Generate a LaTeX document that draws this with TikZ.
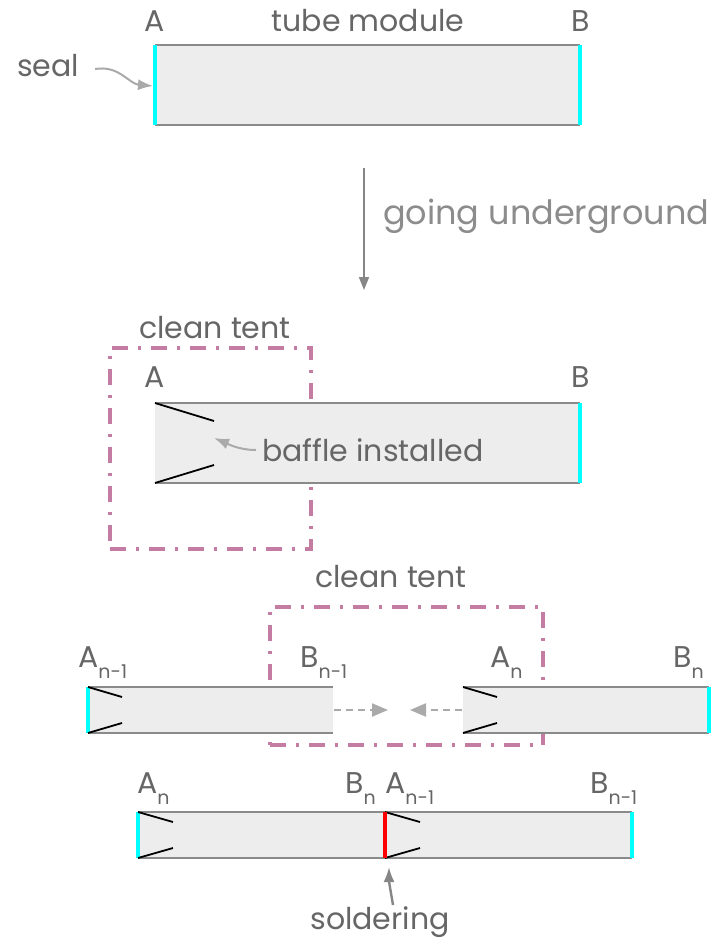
\documentclass[tikz,border=0pt]{standalone}
\usepackage{fontspec}
\setmainfont{Poppins}
\usetikzlibrary{arrows.meta}
\definecolor{txt}{HTML}{666666}
\definecolor{txtlight}{HTML}{8C8C8C}
\definecolor{tubefill}{HTML}{EDEDED}
\definecolor{edgegray}{HTML}{8A8A8A}
\definecolor{tentc}{HTML}{C47CA2}
\definecolor{arrgray}{HTML}{AAAAAA}
\definecolor{arrdark}{HTML}{868686}
\definecolor{sealc}{HTML}{00FFFF}
\definecolor{solderc}{HTML}{FF0000}
\newcommand\subl[2]{#1\raisebox{-11pt}{\fontsize{19}{19}\selectfont #2}}
\begin{document}
\begin{tikzpicture}[x=1pt,y=-1pt,
  tube/.style={fill=tubefill, draw=none, inner sep=0pt, outer sep=0pt},
  tubeedge/.style={draw=edgegray, line width=2.2pt},
  sealline/.style={draw=sealc, line width=3.2pt},
  solder/.style={draw=solderc, line width=3.6pt},
  baffle/.style={draw=black, line width=1.8pt},
  tent/.style={draw=tentc, line width=3.2pt, dash pattern=on 16pt off 10pt on 3pt off 10pt, inner sep=0pt, outer sep=0pt},
  lbl/.style={text=txt, font=\fontsize{30}{30}\selectfont, inner sep=0pt},
  thinarrow/.style={draw=arrgray, line width=2pt, -{Latex[length=15pt,width=11pt]}},
  dasharrow/.style={draw=arrgray, line width=2.2pt, dash pattern=on 7pt off 5pt, -{Triangle[length=16pt,width=13pt]}},
  mainarrow/.style={draw=arrdark, line width=1.7pt, -{Triangle[length=13pt,width=10pt]}}
]
\useasboundingbox (0,0) rectangle (720,942);

% ---------- top tube ----------
\node[tube, minimum width=425pt, minimum height=80pt] (t1) at (367.5,85) {};
\draw[tubeedge] (t1.north west) -- (t1.north east);
\draw[tubeedge] (t1.south west) -- (t1.south east);
\draw[sealline] (t1.north west) -- (t1.south west);
\draw[sealline] (t1.north east) -- (t1.south east);
\node[lbl] (a1) at (155,21) {A};
\node[lbl] (tm) at (368,21) {tube module};
\node[lbl] (b1) at (581,21) {B};
\node[lbl] (seal) at (48,66) {seal};
\coordinate (sealtip) at (153,86);
\draw[thinarrow] ([xshift=16pt,yshift=-3pt]seal.east) .. controls +(24,-4) and +(-24,-2) .. (sealtip);

% ---------- going underground ----------
\coordinate (gu1) at (364,168);
\coordinate (gu2) at (364,290);
\draw[mainarrow] (gu1) -- (gu2);
\node[lbl, text=txtlight, font=\fontsize{33.5}{33.5}\selectfont, anchor=west] (gu) at (383,216) {going underground};

% ---------- second row ----------
\node[tent, minimum width=201pt, minimum height=201pt] (tent1) at (210.5,448.5) {};
\node[lbl] (ct1) at (215,328) {clean tent};
\node[tube, minimum width=425pt, minimum height=80pt] (t2) at (367.5,443) {};
\draw[tubeedge] (t2.north west) -- (t2.north east);
\draw[tubeedge] (t2.south west) -- (t2.south east);
\draw[sealline] (t2.north east) -- (t2.south east);
\draw[baffle] (t2.north west) -- ++(59,18) coordinate (bf1);
\draw[baffle] (t2.south west) -- ++(59,-18) coordinate (bf2);
\node[lbl] (a2) at (155,377) {A};
\node[lbl] (b2) at (581,377) {B};
\node[lbl, anchor=west] (bi) at (262,450) {baffle installed};
\coordinate (bftip) at (214,438);
\draw[thinarrow] ([xshift=-6pt]bi.west) .. controls +(-18,0) and +(12,5) .. (bftip);

% ---------- third row ----------
\node[tent, minimum width=273pt, minimum height=138pt] (tent2) at (406.5,676) {};
\node[lbl] (ct2) at (391,577) {clean tent};
\node[tube, minimum width=245pt, minimum height=46pt] (t3a) at (210.5,710) {};
\draw[tubeedge] (t3a.north west) -- (t3a.north east);
\draw[tubeedge] (t3a.south west) -- (t3a.south east);
\draw[sealline] (t3a.north west) -- (t3a.south west);
\draw[baffle] (t3a.north west) -- ++(34,10);
\draw[baffle] (t3a.south west) -- ++(34,-10);
\node[tube, minimum width=246pt, minimum height=46pt] (t3b) at (586,710) {};
\draw[tubeedge] (t3b.north west) -- (t3b.north east);
\draw[tubeedge] (t3b.south west) -- (t3b.south east);
\draw[sealline] (t3b.north east) -- (t3b.south east);
\draw[baffle] (t3b.north west) -- ++(34,10);
\draw[baffle] (t3b.south west) -- ++(34,-10);
\node[lbl, anchor=base west] (a3) at (78,667) {\subl{A}{n-1}};
\node[lbl, anchor=base west] (b3) at (300,667) {\subl{B}{n-1}};
\node[lbl, anchor=base west] (a4) at (490,667) {\subl{A}{n}};
\node[lbl, anchor=base west] (b4) at (673,667) {\subl{B}{n}};
\coordinate (mid1) at (388,710);
\coordinate (mid2) at (410,710);
\draw[dasharrow] ([xshift=1pt]t3a.east) -- (mid1);
\draw[dasharrow] ([xshift=-1pt]t3b.west) -- (mid2);

% ---------- bottom row ----------
\node[tube, minimum width=247pt, minimum height=46pt] (t4a) at (261.5,835) {};
\node[tube, minimum width=247pt, minimum height=46pt] (t4b) at (508.5,835) {};
\draw[tubeedge] (t4a.north west) -- (t4b.north east);
\draw[tubeedge] (t4a.south west) -- (t4b.south east);
\draw[sealline] (t4a.north west) -- (t4a.south west);
\draw[sealline] (t4b.north east) -- (t4b.south east);
\draw[baffle] (t4a.north west) -- ++(35,10);
\draw[baffle] (t4a.south west) -- ++(35,-10);
\draw[baffle] (t4b.north west) -- ++(35,10);
\draw[baffle] (t4b.south west) -- ++(35,-10);
\draw[solder] (t4a.north east) -- (t4a.south east);
\node[lbl, anchor=base west] (a5) at (137,793) {\subl{A}{n}};
\node[lbl, anchor=base west] (b5) at (345,793) {\subl{B}{n}};
\node[lbl, anchor=base west] (a6) at (385,793) {\subl{A}{n-1}};
\node[lbl, anchor=base west] (b6) at (590,793) {\subl{B}{n-1}};
\node[lbl] (sold) at (380,922) {soldering};
\coordinate (soldtip) at (389,867);
\coordinate (soldstart) at (393,905);
\draw[thinarrow, draw=arrdark, line width=2.4pt] (soldstart) .. controls (391,893) and (389,882) .. (soldtip);
\end{tikzpicture}
\end{document}
